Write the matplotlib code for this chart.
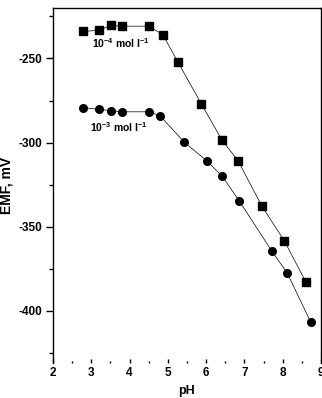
import numpy as np
import matplotlib.pyplot as plt

plt.rcParams['font.family'] = ['Liberation Sans', 'DejaVu Sans']
plt.rcParams['axes.unicode_minus'] = False
plt.rcParams['mathtext.default'] = 'regular'

# 10^-4 mol/l series (squares)
ph_sq = [2.78, 3.19, 3.51, 3.80, 4.50, 4.87, 5.26, 5.87, 6.41, 6.83, 7.46, 8.04, 8.60]
emf_sq = [-233.9, -233.3, -230.4, -230.8, -230.8, -235.9, -252.0, -276.8, -298.4,
          -310.7, -337.9, -358.3, -382.6]

# 10^-3 mol/l series (circles)
ph_ci = [2.79, 3.19, 3.51, 3.80, 4.50, 4.79, 5.43, 6.01, 6.42, 6.86, 7.71, 8.12, 8.73]
emf_ci = [-279.2, -280.2, -281.0, -281.7, -281.7, -283.9, -299.8, -310.7, -320.0,
          -334.5, -364.3, -377.6, -406.7]

fig = plt.figure(figsize=(3.22, 3.98), dpi=100)
ax = fig.add_axes([53/322, 1 - 363/398, 268/322, 355/398])

ax.plot(ph_sq, emf_sq, color='black', lw=0.5, marker='s', ms=5.5)
ax.plot(ph_ci, emf_ci, color='black', lw=0.5, marker='o', ms=5.5)

ax.text(3.03, -243.5, '10$^{-4}$ mol l$^{-1}$', fontsize=7.5, fontweight='bold')
ax.text(2.97, -293.5, '10$^{-3}$ mol l$^{-1}$', fontsize=7.5, fontweight='bold')

ax.set_xlim(2, 9)
ax.set_ylim(-431, -220)
ax.set_xticks(np.arange(2, 10, 1))
ax.set_xticks(np.arange(2.5, 9, 1), minor=True)
ax.set_yticks([-250, -300, -350, -400])
ax.set_yticks([-225, -275, -325, -375, -425], minor=True)

ax.spines['bottom'].set_visible(False)
for s in ['top', 'left', 'right']:
    ax.spines[s].set_linewidth(1.0)

ax.tick_params(axis='x', which='major', direction='in', length=3, width=1, labelsize=8.5, pad=3)
ax.tick_params(axis='x', which='minor', direction='in', length=1.5, width=1)
ax.tick_params(axis='y', which='major', direction='out', length=5, width=1, labelsize=8.5, pad=3)
ax.tick_params(axis='y', which='minor', direction='out', length=3, width=1)
for lbl in ax.get_xticklabels() + ax.get_yticklabels():
    lbl.set_fontweight('bold')

ax.set_xlabel('pH', fontsize=9, fontweight='bold', labelpad=4)
ax.set_ylabel('EMF, mV', fontsize=10, fontweight='bold', labelpad=3)

fig.savefig('out.png', dpi=100)
